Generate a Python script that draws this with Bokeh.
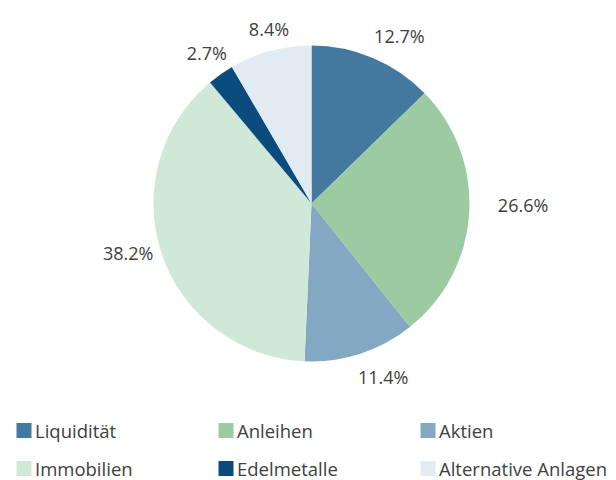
import math
from bokeh.plotting import figure
from bokeh.models import Range1d, ColumnDataSource
from bokeh.core.properties import value
from bokeh.embed import file_html
from bokeh.resources import INLINE

categories = ["Liquidität", "Anleihen", "Aktien", "Immobilien", "Edelmetalle", "Alternative Anlagen"]
shares = [12.7, 26.6, 11.4, 38.2, 2.7, 8.4]
colors = ["#43799f", "#9ccba2", "#82a8c4", "#d0e8d7", "#0c4b7d", "#e2eaf2"]

W, H = 616, 480
p = figure(width=W, height=H, output_backend="svg", toolbar_location=None,
           x_range=Range1d(0, W), y_range=Range1d(0, H), min_border=0)
p.axis.visible = False
p.grid.visible = False
p.outline_line_color = None
p.background_fill_color = "white"

cx, cy, r = 311, H - 203, 158
total = sum(shares)
starts, ends, mids = [], [], []
acc = 0.0
for s in shares:
    a0 = acc / total
    acc += s
    a1 = acc / total
    starts.append(math.pi / 2 - 2 * math.pi * a0)
    ends.append(math.pi / 2 - 2 * math.pi * a1)
    mids.append(2 * math.pi * (a0 + a1) / 2)

src = ColumnDataSource(dict(start=starts, end=ends, color=colors, cat=categories))
p.wedge(x=cx, y=cy, radius=r, start_angle="start", end_angle="end", direction="clock",
        fill_color="color", line_color=None, source=src)

# data labels outside the slices ("outside end"), on an ellipse around the pie
lx, ly, lt = [], [], []
for s, m in zip(shares, mids):
    txt = f"{s:.1f}%"
    w = 10.8 * len(txt)
    sn, cs = math.sin(m), math.cos(m)
    rx = r + 18 + w / 2
    ry = r + 24
    lx.append(cx + 9 + sn * rx)
    ly.append(cy + cs * ry - 2 + 12 * sn * sn)
    lt.append(txt)
p.text(x=lx, y=ly, text=lt, text_align="center", text_baseline="middle",
       text_font=value("Open Sans"), text_font_size="18px", text_color="#404040")

# legend
col_x = [23.5, 225.5, 427.5]
row_y = [H - 430, H - 468]
sq_x = [col_x[i % 3] for i in range(len(categories))]
sq_y = [row_y[i // 3] for i in range(len(categories))]
p.rect(x=sq_x, y=sq_y, width=15, height=15, fill_color=colors, line_color=None)
p.text(x=[x + 11 for x in sq_x], y=sq_y, text=categories, text_align="left",
       text_baseline="middle", text_font=value("Open Sans"), text_font_size="18.5px",
       text_color="#404040")

open("out.html", "w").write(file_html(p, INLINE))
